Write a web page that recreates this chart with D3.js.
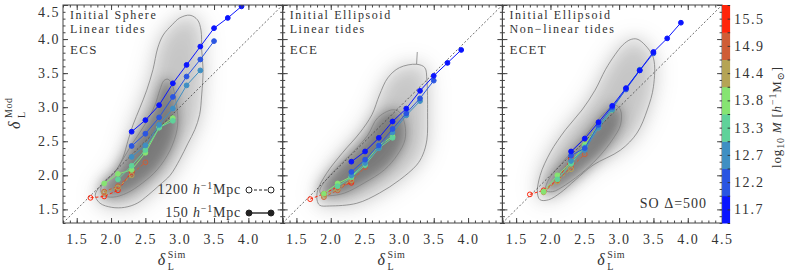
<!DOCTYPE html>
<html>
<head>
<meta charset="utf-8">
<script src="https://cdn.jsdelivr.net/npm/d3@7"></script>
<style>
body { margin: 0; background: #fff; }
svg text { font-family: "Liberation Serif", "DejaVu Serif", serif; fill: #333; }
</style>
</head>
<body>
<div id="chart"></div>
<script>
// axis ranges and ticks
var xDomain = [1.3, 4.5];
var yDomain = [1.3, 4.5];
var majorTicks = [1.5, 2.0, 2.5, 3.0, 3.5, 4.0, 4.5];

// mass bins of the colour bar (log10 M)
var massBins = ['11.7', '12.2', '12.7', '13.3', '13.8', '14.4', '14.9', '15.5'];
var massColors = ['#0a14ff', '#2a55e2', '#3f8fc3', '#5fd29a', '#86e472', '#b5a455', '#cf5d36', '#ff250a'];

var panelNames = ['ECS', 'ECE', 'ECET'];
var panelTitles = [['Initial Sphere', 'Linear tides'], ['Initial Ellipsoid', 'Linear tides'], ['Initial Ellipsoid', 'Non\u2212linear tides']];

// box = 150 (solid, filled) or 1200 (dashed, open) h^-1 Mpc
var ecsSeries = [
	{bin: 7, box: 1200, x: [1.7, 1.9, 2.1, 2.3], y: [1.67, 1.69, 1.78, 2.05]},
	{bin: 6, box: 1200, x: [1.9, 2.1, 2.3, 2.5], y: [1.76, 1.84, 2.02, 2.19]},
	{bin: 5, box: 1200, x: [1.9, 2.1, 2.3], y: [1.74, 1.82, 2.00]},
	{bin: 4, box: 150, x: [1.9, 2.1, 2.3, 2.5, 2.7, 2.9], y: [1.88, 2.02, 2.08, 2.33, 2.70, 2.84]},
	{bin: 3, box: 150, x: [2.1, 2.3, 2.5, 2.7, 2.9], y: [1.94, 2.14, 2.37, 2.70, 2.80]},
	{bin: 2, box: 150, x: [2.3, 2.5, 2.7, 2.9, 3.1, 3.3], y: [2.27, 2.44, 2.74, 2.98, 3.32, 3.54]},
	{bin: 1, box: 150, x: [2.3, 2.5, 2.7, 2.9, 3.1, 3.3, 3.5], y: [2.43, 2.61, 2.85, 3.15, 3.45, 3.70, 3.97]},
	{bin: 0, box: 150, x: [2.3, 2.5, 2.7, 2.9, 3.1, 3.3, 3.5, 3.7, 3.9], y: [2.64, 2.81, 3.03, 3.35, 3.62, 3.89, 4.16, 4.31, 4.48]}
];
var eceSeries = [
	{bin: 7, box: 1200, x: [1.7, 1.9, 2.1, 2.3], y: [1.65, 1.73, 1.83, 1.89]},
	{bin: 6, box: 1200, x: [1.9, 2.1, 2.3, 2.5], y: [1.68, 1.78, 1.91, 2.12]},
	{bin: 5, box: 1200, x: [1.9, 2.1, 2.3], y: [1.70, 1.80, 1.93]},
	{bin: 4, box: 150, x: [1.9, 2.1, 2.3, 2.5, 2.7, 2.9], y: [1.73, 1.88, 1.98, 2.18, 2.44, 2.57]},
	{bin: 3, box: 150, x: [2.1, 2.3, 2.5, 2.7, 2.9], y: [1.84, 1.97, 2.15, 2.40, 2.55]},
	{bin: 2, box: 150, x: [2.3, 2.5, 2.7, 2.9, 3.1, 3.3], y: [2.00, 2.18, 2.40, 2.63, 2.88, 3.09]},
	{bin: 1, box: 150, x: [2.3, 2.5, 2.7, 2.9, 3.1, 3.3, 3.5], y: [2.05, 2.23, 2.44, 2.68, 2.91, 3.13, 3.39]},
	{bin: 0, box: 150, x: [2.3, 2.5, 2.7, 2.9, 3.1, 3.3, 3.5, 3.7, 3.9], y: [2.20, 2.35, 2.55, 2.79, 2.98, 3.24, 3.46, 3.65, 3.84]}
];
var ecetSeries = [
	{bin: 7, box: 1200, x: [1.7, 1.9, 2.1, 2.3], y: [1.72, 1.78, 1.93, 2.24]},
	{bin: 6, box: 1200, x: [1.9, 2.1, 2.3, 2.5], y: [1.76, 1.92, 2.12, 2.31]},
	{bin: 5, box: 1200, x: [1.9, 2.1, 2.3], y: [1.75, 1.91, 2.09]},
	{bin: 4, box: 150, x: [1.9, 2.1, 2.3, 2.5, 2.7, 2.9], y: [1.76, 2.00, 2.19, 2.45, 2.74, 2.98]},
	{bin: 3, box: 150, x: [2.1, 2.3, 2.5, 2.7, 2.9], y: [1.94, 2.17, 2.42, 2.70, 2.96]},
	{bin: 2, box: 150, x: [2.3, 2.5, 2.7, 2.9, 3.1, 3.3], y: [2.21, 2.37, 2.70, 2.97, 3.27, 3.55]},
	{bin: 1, box: 150, x: [2.3, 2.5, 2.7, 2.9, 3.1, 3.3, 3.5], y: [2.29, 2.40, 2.74, 3.00, 3.26, 3.54, 3.79]},
	{bin: 0, box: 150, x: [2.3, 2.5, 2.7, 2.9, 3.1, 3.3, 3.5, 3.7, 3.9], y: [2.35, 2.54, 2.78, 3.02, 3.28, 3.54, 3.81, 4.01, 4.24]}
];

// density contours (delta_sim, delta_mod)
var ecsOuter = [[3.15,4.35],[3.26,4.28],[3.31,4.13],[3.32,3.84],[3.34,3.55],[3.32,3.18],[3.29,2.89],[3.22,2.67],[3.12,2.47],[3.00,2.23],[2.86,2.00],[2.71,1.86],[2.54,1.71],[2.38,1.59],[2.20,1.53],[2.01,1.53],[1.84,1.59],[1.77,1.70],[1.81,1.80],[1.91,1.90],[2.06,2.05],[2.17,2.25],[2.25,2.52],[2.32,2.74],[2.42,2.99],[2.52,3.25],[2.61,3.55],[2.68,3.87],[2.76,4.06],[2.89,4.21],[3.00,4.31]];
var ecsInner = [[2.83,3.41],[2.89,3.33],[2.94,3.11],[2.97,2.89],[2.96,2.67],[2.86,2.37],[2.67,2.08],[2.46,1.89],[2.23,1.74],[2.03,1.68],[1.88,1.71],[1.85,1.80],[1.91,1.92],[2.04,2.03],[2.17,2.23],[2.30,2.45],[2.49,2.74],[2.64,3.03],[2.71,3.25],[2.77,3.39]];
var eceOuter = [[3.00,3.58],[3.25,3.63],[3.37,3.58],[3.40,3.40],[3.41,2.92],[3.40,2.52],[3.34,2.30],[3.25,2.15],[3.00,1.93],[2.71,1.74],[2.38,1.59],[1.98,1.55],[1.84,1.56],[1.80,1.64],[1.81,1.78],[1.94,2.03],[2.17,2.33],[2.42,2.62],[2.60,2.89],[2.71,3.18],[2.83,3.43]];
var eceInner = [[2.89,2.96],[3.00,2.93],[3.08,2.74],[3.08,2.52],[2.97,2.30],[2.78,2.08],[2.49,1.89],[2.20,1.74],[1.98,1.70],[1.87,1.71],[1.84,1.78],[1.93,1.93],[2.13,2.15],[2.35,2.37],[2.54,2.59],[2.68,2.84]];
var eceSpike = [[3.25,3.63],[3.26,3.81]];
var ecetOuter = [[3.16,3.99],[3.26,4.00],[3.38,3.91],[3.50,3.72],[3.50,3.30],[3.41,2.96],[3.26,2.62],[3.02,2.37],[2.62,2.15],[2.36,1.93],[2.14,1.74],[1.97,1.64],[1.85,1.64],[1.81,1.74],[1.85,2.00],[2.00,2.34],[2.22,2.67],[2.46,2.96],[2.65,3.25],[2.80,3.55],[2.94,3.77],[3.05,3.91]];
var ecetInner = [[2.94,3.03],[3.02,2.96],[3.02,2.74],[2.90,2.52],[2.73,2.30],[2.51,2.08],[2.22,1.86],[2.03,1.76],[1.93,1.78],[1.97,1.93],[2.14,2.15],[2.36,2.40],[2.58,2.67],[2.76,2.89]];

var legendBoxes = ['1200', '150'];

var panels = [
	{series: ecsSeries, outer: ecsOuter, inner: ecsInner, extra: []},
	{series: eceSeries, outer: eceOuter, inner: eceInner, extra: [eceSpike]},
	{series: ecetSeries, outer: ecetOuter, inner: ecetInner, extra: []}
];

var cfg = { left: 63, top: 5, pw: 219.7, ph: 218, barW: 8 };
var bottom = cfg.top + cfg.ph;

var svg = d3.select('#chart').append('svg')
	.attr('width', 789)
	.attr('height', 271);

var defs = svg.append('defs');
function addBlur(id, sd) {
	defs.append('filter').attr('id', id)
		.attr('x', '-50%').attr('y', '-50%').attr('width', '200%').attr('height', '200%')
		.append('feGaussianBlur').attr('stdDeviation', sd);
}
addBlur('blurHuge', 14);
addBlur('blurWide', 8);
addBlur('blurMid', 5);

function supText(sel, parts) {
	parts.forEach(function (p) {
		var t = sel.append('tspan').text(p[0]);
		if (p[1] === 'i') t.style('font-style', 'italic');
		if (p[1] === 'sup') t.attr('dy', -5).style('font-size', '10px');
		if (p[1] === 'sub') t.attr('dy', 3).style('font-size', '10px');
		if (p[1] === 'down') t.attr('dy', 5);
		if (p[1] === 'up') t.attr('dy', -3);
	});
}

var tickFont = '14px';

panels.forEach(function (p, i) {
	var x0 = cfg.left + i * cfg.pw;
	var x = d3.scaleLinear().domain(xDomain).range([x0, x0 + cfg.pw]);
	var y = d3.scaleLinear().domain(yDomain).range([bottom, cfg.top]);

	defs.append('clipPath').attr('id', 'clip' + i)
		.append('rect')
		.attr('x', x0).attr('y', cfg.top)
		.attr('width', cfg.pw).attr('height', cfg.ph);

	var g = svg.append('g').attr('clip-path', 'url(#clip' + i + ')');
	var closed = d3.line().x(function (d) { return x(d[0]); }).y(function (d) { return y(d[1]); })
		.curve(d3.curveCatmullRomClosed);
	var open = d3.line().x(function (d) { return x(d[0]); }).y(function (d) { return y(d[1]); });

	// grey density
	g.append('path').attr('d', closed(p.outer))
		.attr('fill', '#000').attr('opacity', 0.12).attr('filter', 'url(#blurHuge)');
	g.append('path').attr('d', closed(p.outer))
		.attr('fill', '#000').attr('opacity', 0.12).attr('filter', 'url(#blurWide)');
	g.append('path').attr('d', closed(p.inner))
		.attr('fill', '#000').attr('opacity', 0.22).attr('filter', 'url(#blurWide)');
	g.append('path').attr('d', closed(p.inner))
		.attr('fill', '#000').attr('opacity', 0.2).attr('filter', 'url(#blurMid)');

	// contour lines
	[p.outer, p.inner].forEach(function (c) {
		g.append('path').attr('d', closed(c))
			.attr('fill', 'none').attr('stroke', '#808080').attr('stroke-width', 0.8);
	});
	p.extra.forEach(function (c) {
		g.append('path').attr('d', open(c))
			.attr('fill', 'none').attr('stroke', '#808080').attr('stroke-width', 0.8);
	});

	// one-to-one line
	g.append('line')
		.attr('x1', x(xDomain[0])).attr('y1', y(xDomain[0]))
		.attr('x2', x(xDomain[1])).attr('y2', y(xDomain[1]))
		.attr('stroke', '#444').attr('stroke-width', 0.8).attr('stroke-dasharray', '2,2');

	// model vs sim curves
	p.series.forEach(function (s) {
		var col = massColors[s.bin];
		var pts = s.x.map(function (v, k) { return [v, s.y[k]]; });
		g.append('path').attr('d', open(pts))
			.attr('fill', 'none').attr('stroke', col).attr('stroke-width', 1)
			.attr('stroke-dasharray', s.box === 1200 ? '3,2' : null);
		g.selectAll(null).data(pts).enter().append('circle')
			.attr('cx', function (d) { return x(d[0]); })
			.attr('cy', function (d) { return y(d[1]); })
			.attr('r', 2.4)
			.attr('fill', s.box === 1200 ? 'none' : col)
			.attr('stroke', col).attr('stroke-width', 1);
	});

	// axes, ticks pointing inward
	var fmt = d3.format('.1f');
	var xLabels = i === 2 ? majorTicks : majorTicks.slice(0, -1);
	function styleAxis(a) {
		a.select('.domain').remove();
		a.selectAll('.tick line').attr('stroke', '#444');
		a.selectAll('.tick text').style('font-size', tickFont).style('letter-spacing', '1.5px')
			.style('font-family', '"Liberation Serif", serif').attr('fill', '#333');
	}
	var minor = x.ticks(32);
	svg.append('g').attr('transform', 'translate(0,' + bottom + ')')
		.call(d3.axisBottom(x).tickValues(majorTicks).tickSize(-5).tickPadding(11)
			.tickFormat(function (d) { return xLabels.indexOf(d) >= 0 ? fmt(d) : ''; }))
		.call(styleAxis);
	svg.append('g').attr('transform', 'translate(0,' + bottom + ')')
		.call(d3.axisBottom(x).tickValues(minor).tickSize(-2.5).tickFormat(''))
		.call(styleAxis);
	svg.append('g').attr('transform', 'translate(0,' + cfg.top + ')')
		.call(d3.axisTop(x).tickValues(majorTicks).tickSize(-5).tickFormat(''))
		.call(styleAxis);
	svg.append('g').attr('transform', 'translate(0,' + cfg.top + ')')
		.call(d3.axisTop(x).tickValues(minor).tickSize(-2.5).tickFormat(''))
		.call(styleAxis);
	var yMinor = y.ticks(32);
	svg.append('g').attr('transform', 'translate(' + x0 + ',0)')
		.call(d3.axisLeft(y).tickValues(majorTicks).tickSize(-5).tickPadding(3)
			.tickFormat(function (d) { return i === 0 ? fmt(d) : ''; }))
		.call(styleAxis)
		.selectAll('.tick text').attr('dy', function (d) { return d === 4.5 ? '0.85em' : '0.32em'; });
	svg.append('g').attr('transform', 'translate(' + x0 + ',0)')
		.call(d3.axisLeft(y).tickValues(yMinor).tickSize(-2.5).tickFormat(''))
		.call(styleAxis);
	svg.append('g').attr('transform', 'translate(' + (x0 + cfg.pw) + ',0)')
		.call(d3.axisRight(y).tickValues(majorTicks).tickSize(-5).tickFormat(''))
		.call(styleAxis);
	svg.append('g').attr('transform', 'translate(' + (x0 + cfg.pw) + ',0)')
		.call(d3.axisRight(y).tickValues(yMinor).tickSize(-2.5).tickFormat(''))
		.call(styleAxis);

	svg.append('rect')
		.attr('x', x0).attr('y', cfg.top).attr('width', cfg.pw).attr('height', cfg.ph)
		.attr('fill', 'none').attr('stroke', '#444').attr('stroke-width', 1);

	// panel texts
	panelTitles[i].forEach(function (t, k) {
		svg.append('text').attr('x', x0 + 7).attr('y', 19 + k * 14)
			.style('font-size', '12px').style('letter-spacing', '1.6px').text(t);
	});
	svg.append('text').attr('x', x0 + 7).attr('y', 54)
		.style('font-size', '13px').style('letter-spacing', '1.3px').text(panelNames[i]);

	// x title
	var cx = x0 + cfg.pw / 2;
	svg.append('text').attr('x', cx - 15).attr('y', 265)
		.style('font-size', '16px').style('font-style', 'italic').text('\u03b4');
	svg.append('text').attr('x', cx - 5).attr('y', 258)
		.style('font-size', '10px').style('letter-spacing', '0.6px').text('Sim');
	svg.append('text').attr('x', cx - 5).attr('y', 270)
		.style('font-size', '10px').text('L');

	if (i === 0) {
		// y title
		var yt = svg.append('g').attr('transform', 'translate(20,115) rotate(-90)');
		yt.append('text').attr('x', -14).attr('y', 0)
			.style('font-size', '16px').style('font-style', 'italic').text('\u03b4');
		yt.append('text').attr('x', -3).attr('y', -8)
			.style('font-size', '10px').style('letter-spacing', '0.6px').text('Mod');
		yt.append('text').attr('x', -3).attr('y', 5)
			.style('font-size', '10px').text('L');

		// legend of box sizes
		legendBoxes.forEach(function (b, k) {
			var ly = 194 + k * 23;
			var t = svg.append('text').attr('x', 241).attr('y', ly)
				.attr('text-anchor', 'end').style('font-size', '14px').style('letter-spacing', '0.8px');
			supText(t, [[b + ' ', 'n'], ['h', 'i'], ['\u22121', 'sup'], ['Mpc', 'down']]);
			var dashed = b === '1200';
			svg.append('line').attr('x1', 249).attr('x2', 271).attr('y1', ly - 4).attr('y2', ly - 4)
				.attr('stroke', '#222').attr('stroke-width', dashed ? 1 : 1.4)
				.attr('stroke-dasharray', dashed ? '3,2' : null);
			[249, 271].forEach(function (cxl) {
				svg.append('circle').attr('cx', cxl).attr('cy', ly - 4).attr('r', 3)
					.attr('fill', dashed ? '#fff' : '#222').attr('stroke', '#222').attr('stroke-width', 1);
			});
		});
	}
	if (i === 2) {
		svg.append('text').attr('x', x0 + cfg.pw - 15).attr('y', 208)
			.attr('text-anchor', 'end').style('font-size', '14px').style('letter-spacing', '1px')
			.text('SO  \u0394=500');
	}
});

// colour bar
var barX = cfg.left + 3 * cfg.pw;
var band = d3.scaleBand().domain(massBins.slice().reverse()).range([cfg.top, bottom]);
svg.append('g').selectAll('rect').data(massBins).enter().append('rect')
	.attr('x', barX).attr('y', function (d) { return band(d); })
	.attr('width', cfg.barW).attr('height', band.bandwidth() + 0.5)
	.attr('fill', function (d, k) { return massColors[k]; });
var barScale = d3.scaleLinear().domain([0, 8]).range([bottom, cfg.top]);
svg.append('g').attr('transform', 'translate(' + (barX + cfg.barW) + ',0)')
	.call(d3.axisRight(barScale).ticks(16).tickSize(-2.5).tickFormat(''))
	.call(function (a) { a.select('.domain').remove(); a.selectAll('line').attr('stroke', '#333'); });
svg.append('g').selectAll('text').data(massBins).enter().append('text')
	.attr('x', barX + cfg.barW + 4)
	.attr('y', function (d) { return band(d) + band.bandwidth() / 2; })
	.attr('dy', '0.35em')
	.style('font-size', tickFont).style('letter-spacing', '1.5px')
	.text(function (d) { return d; });

var cbl = svg.append('text')
	.attr('transform', 'translate(781,' + (cfg.top + cfg.ph / 2 + 3) + ') rotate(-90)')
	.attr('text-anchor', 'middle').style('font-size', '13px').style('letter-spacing', '0.8px');
supText(cbl, [['log', 'n'], ['10', 'sub'], [' ', 'up'], ['M', 'i'], [' [', 'n'], ['h', 'i'], ['\u22121', 'sup'], ['M', 'down'], ['\u2299', 'sub'], [']', 'up']]);
</script>
</body>
</html>
